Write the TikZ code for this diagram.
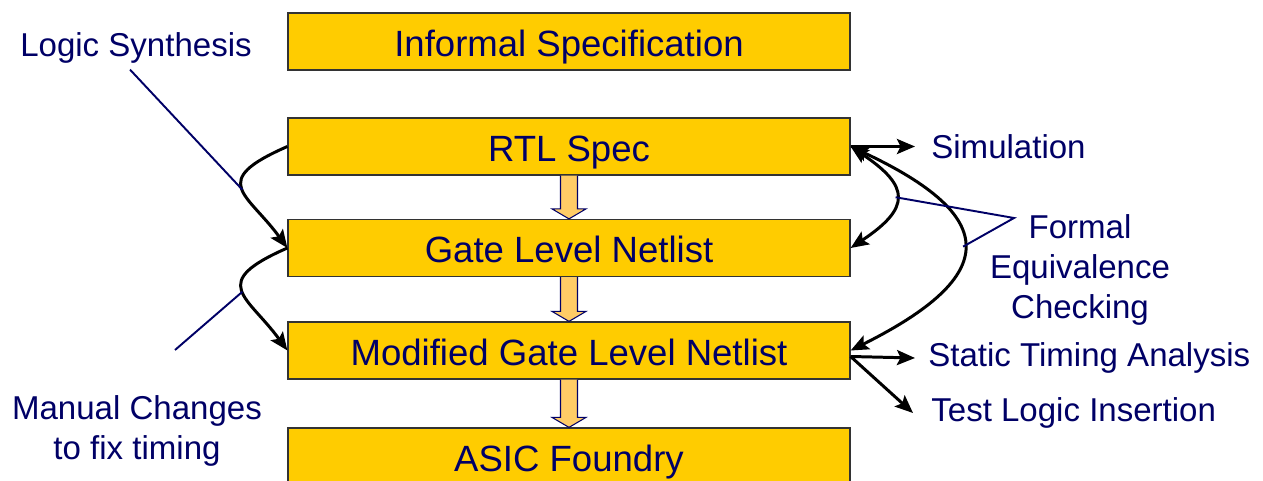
\documentclass[tikz,border=0pt]{standalone}
\usepackage{fontspec}
\setmainfont{Liberation Sans}
\usetikzlibrary{calc,arrows.meta}

\definecolor{boxyellow}{RGB}{255,204,0}
\definecolor{navytext}{RGB}{0,0,102}
\definecolor{arrowfill}{RGB}{255,204,102}

\tikzset{
	stage/.style={draw=black!80, line width=0.7pt, fill=boxyellow, text=navytext,
		minimum width=11.24cm, minimum height=1.14cm, inner sep=0pt,
		text height=0.59cm, text depth=0cm,
		font=\fontsize{20.8}{25}\selectfont},
	note/.style={text=navytext, font=\fontsize{18.8}{22.8}\selectfont, align=center},
	tip/.tip={Stealth[length=0.36cm, width=0.3cm, inset=0.07cm]},
	flow/.style={line width=1.7pt, -tip},
	pointer/.style={draw=navytext, line width=1.1pt},
	hollow/.style={draw=navytext, line width=0.6pt, fill=arrowfill}
}

% block arrow from the bottom of one stage to the top of the next
\newcommand{\stagearrow}[2]{%
	\filldraw[hollow] ($(#1.south)+(-0.17,0)$) -- ($(#2.north)+(-0.17,0.2)$) -- ($(#2.north)+(-0.34,0.2)$)
	-- (#2.north) -- ($(#2.north)+(0.34,0.2)$) -- ($(#2.north)+(0.17,0.2)$) -- ($(#1.south)+(0.17,0)$);
}

\begin{document}
\begin{tikzpicture}
	\useasboundingbox (0,0) rectangle (25.26,-9.62);
	\begin{scope}
	\clip (0,0) rectangle (25.26,-9.62);
	
	\node[stage] (spec) at (11.38,-0.83) {Informal Specification};
	\node[stage] (rtl) at (11.38,-2.93) {RTL Spec};
	\node[stage] (gate) at (11.38,-4.96) {Gate Level Netlist};
	\node[stage] (mod) at (11.38,-7.01) {Modified Gate Level Netlist};
	\node[stage] (asic) at (11.38,-9.13) {ASIC Foundry};
	\end{scope}
	
	\stagearrow{rtl}{gate}
	\stagearrow{gate}{mod}
	\stagearrow{mod}{asic}
	
	% left side
	\node[note] (synth) at (2.72,-0.96) {Logic Synthesis};
	\node[note] (manual) at (2.74,-8.61) {Manual Changes\\to fix timing};
	\coordinate (manualtip) at (3.5,-7.0);
	
	\draw[flow] (rtl.west) .. controls +(-1.6,-0.7) and +(-0.8,1.1) .. (gate.west) coordinate[pos=0.5] (ls);
	\draw[flow] (gate.west) .. controls +(-1.6,-0.7) and +(-0.8,1.1) .. (mod.west) coordinate[pos=0.5] (mc);
	\draw[pointer] ($(synth.south)+(-0.12,0)$) -- (ls);
	\draw[pointer] (manualtip) -- (mc);
	
	% right side
	\node[note, anchor=west, inner xsep=0.32cm] (sim) at (18.3,-2.93) {Simulation};
	\draw[flow] (rtl.east) -- (sim.west);
	
	\draw[line width=1.7pt, tip-tip] (rtl.east) .. controls +(3.0,-1.4) and +(3.0,1.5) .. (mod.east) coordinate[pos=0.5] (eq2);
	\draw[line width=1.7pt, tip-tip] (rtl.east) .. controls +(1.2,-0.8) and +(1.2,0.8) .. (gate.east) coordinate[pos=0.5] (eq1);
	
	\node[note] (fec) at (21.6,-5.4) {Formal\\Equivalence\\Checking};
	\coordinate (eqtip) at (20.28,-4.36);
	\draw[pointer] (eq1) -- (eqtip) -- (eq2);
	
	\coordinate (modout) at ($(mod.east)+(0,-0.12)$);
	\node[note, anchor=west, inner xsep=0.26cm] (sta) at (18.3,-7.16) {Static Timing Analysis};
	\node[note, anchor=west, inner xsep=0.36cm] (tli) at (18.26,-8.26) {Test Logic Insertion};
	\draw[flow] (modout) -- (sta.west);
	\draw[flow] (modout) -- (tli.west);
	
\end{tikzpicture}
\end{document}
